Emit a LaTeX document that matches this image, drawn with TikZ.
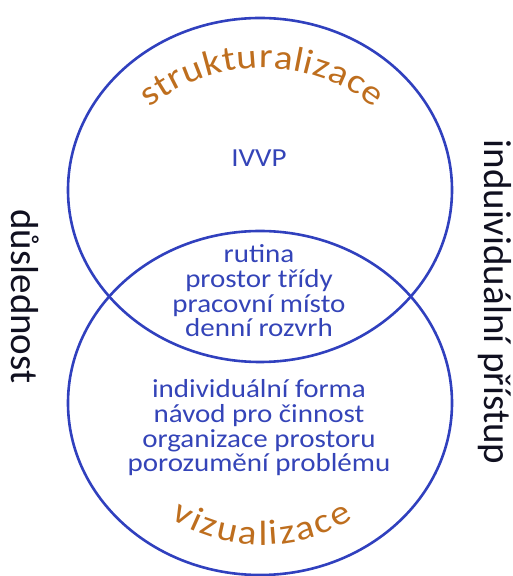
\documentclass[tikz,border=0pt]{standalone}
\usepackage{fontspec}
\setmainfont{Carlito}
\newfontfamily\widefont{Carlito}[FakeStretch=1.116]
\usetikzlibrary{shapes.geometric,decorations.text}
\definecolor{ringblue}{RGB}{48,64,190}
\definecolor{textblue}{RGB}{52,68,184}
\definecolor{labelorange}{RGB}{190,110,30}
\definecolor{sideblack}{RGB}{16,16,32}

\begin{document}
\begin{tikzpicture}[x=1pt,y=1pt,
  ring/.style={draw=ringblue,line width=2.6pt,ellipse,minimum width=384pt,minimum height=344pt,inner sep=0pt},
  item/.style={text=textblue,font=\widefont\fontsize{26}{26}\selectfont,inner sep=0pt,anchor=base},
  side/.style={text=sideblack,font=\fontsize{39}{39}\selectfont,inner sep=0pt,anchor=base,rotate=-90},
  arctext/.style={decorate,decoration={text along path,text color=labelorange,text align={fit to path},
    text={|\widefont\fontsize{35}{35}\selectfont|#1}}}]

\useasboundingbox (0,0) rectangle (512,576);

% two circles
\node[ring] (struk) at (260,386) {};
\node[ring] (vizu) at (260,173) {};

% titles along the arcs
\path[arctext=strukturalizace] (262,328) ++(128.7:180pt) arc[start angle=128.7,end angle=51.3,radius=180pt];
\path[arctext=vizualizace] (262,200.5) ++(237.5:169.5pt) arc[start angle=237.5,end angle=302.5,radius=169.5pt];

% contents
\node[item] (ivvp) at (259,409) {IVVP};

\node[item] (rutina) at (259,313) {rutina};
\node[item] (trida) at (259,288) {prostor třídy};
\node[item] (misto) at (259,263.5) {pracovní místo};
\node[item] (rozvrh) at (259,239) {denní rozvrh};

\node[item] (forma) at (259,178) {individuální forma};
\node[item] (navod) at (259,153) {návod pro činnost};
\node[item] (prostor) at (259,128) {organizace prostoru};
\node[item] (problem) at (259,104) {porozumění problému};

% side labels
\node[side] (dusl) at (12,279.5) {důslednost};
\node[side] (indiv) at (484,274) {induividuální přístup};
\end{tikzpicture}
\end{document}
